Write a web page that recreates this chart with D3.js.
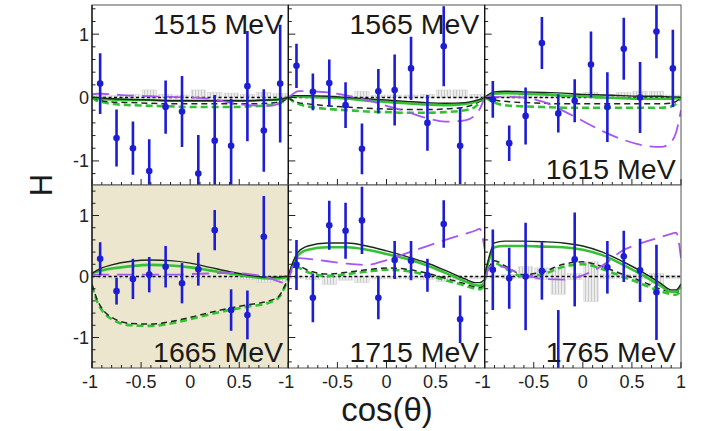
<!DOCTYPE html>
<html><head><meta charset="utf-8">
<script src="https://cdn.jsdelivr.net/npm/d3@7"></script>
<style>body{margin:0;background:#fff}svg{display:block;font-family:"Liberation Sans",Arial,Helvetica,sans-serif}</style>
</head><body><svg id="c" width="708" height="431"></svg>
<script>
// ---------------- data ----------------
const energies = ["1515 MeV","1565 MeV","1615 MeV","1665 MeV","1715 MeV","1765 MeV"];
const cosBins = [-0.917,-0.75,-0.583,-0.417,-0.25,-0.083,0.083,0.25,0.417,0.583,0.75,0.917];
const xTickLabels = ["-1","-0.5","0","0.5","1"];
const yTickLabels = ["-1","0","1"];
// measured H values (null = no point)
const Hvals = [
  [0.22,-0.64,-0.80,-1.16,-0.15,-0.22,-1.20,-0.68,-0.76,0.18,-0.52,0.22],
  [0.50,0.09,0.23,-0.12,-0.81,0.10,0.12,0.46,-0.40,0.81,-0.76,null],
  [-0.03,-0.72,-0.29,0.86,-0.25,-0.05,0.52,-0.15,0.77,0.00,1.04,0.46],
  [0.29,-0.24,-0.04,0.03,0.16,-0.11,0.12,0.76,-0.55,-0.63,0.65,null],
  [0.19,-0.35,0.84,0.75,0.92,-0.35,0.27,0.26,0.02,0.86,-0.70,null],
  [0.11,-0.03,0.00,0.09,-1.60,0.28,null,0.15,0.33,0.10,-0.26,null]
];
const Herrs = [
  [0.48,0.45,0.42,0.50,0.42,0.56,0.61,0.72,0.74,0.87,0.65,0.93],
  [0.35,0.29,0.37,0.36,0.40,0.35,0.56,0.50,0.44,0.63,0.61,null],
  [0.29,0.28,0.45,0.41,0.30,0.34,0.52,0.55,0.49,0.56,0.42,0.61],
  [0.27,0.22,0.33,0.29,0.34,0.33,0.27,0.33,0.34,0.40,0.67,null],
  [0.41,0.40,0.40,0.46,0.55,0.35,0.31,0.32,0.27,0.39,0.39,null],
  [0.66,0.50,0.88,0.47,1.05,0.77,null,0.43,0.42,0.52,0.78,null]
];
// systematic boxes (low, high)
const sysLo = [
  [0,0,0,0,0,0,0,0,0,0,0,0],
  [0,0,0,0,0,0,0,0,0,0,0,0],
  [0,0,0,0,0,0,0,0,0,0,0,0],
  [-0.03,-0.03,-0.03,-0.04,-0.03,-0.04,-0.04,-0.03,-0.05,-0.05,-0.10,-0.08],
  [-0.03,-0.05,-0.13,-0.06,-0.10,-0.04,-0.04,-0.04,-0.05,-0.08,-0.05,-0.04],
  [-0.02,-0.03,-0.03,-0.05,-0.29,-0.05,-0.41,-0.04,-0.03,-0.04,-0.12,-0.03]
];
const sysHi = [
  [0.04,0.03,0.05,0.12,0.05,0.04,0.12,0.08,0.07,0.05,0.08,0.06],
  [0.03,0.03,0.03,0.04,0.10,0.04,0.04,0.04,0.05,0.12,0.12,0.05],
  [0.02,0.03,0.05,0.03,0.03,0.04,0.08,0.05,0.08,0.10,0.10,0.04],
  [0,0,0,0,0,0,0,0,0,0,0,0],
  [0,0,0,0,0,0,0,0,0,0,0,0],
  [0.02,0.03,0.16,0.14,0.15,0.05,0.24,0.04,0.03,0.03,0.05,0.02]
];
// model curves sampled at curveX
const curveX = [-1,-0.95,-0.9,-0.8,-0.6,-0.4,-0.2,0,0.2,0.4,0.6,0.8,0.9,0.95,1];
const blackSolid = [
  [0.0,0.0,-0.01,-0.02,-0.03,-0.04,-0.05,-0.05,-0.05,-0.05,-0.05,-0.04,-0.03,-0.02,0.0],
  [0.0,0.03,0.03,0.03,0.02,0.0,-0.02,-0.04,-0.06,-0.08,-0.09,-0.08,-0.05,-0.03,0.0],
  [0.0,0.06,0.09,0.10,0.09,0.08,0.07,0.05,0.04,0.03,0.02,0.02,0.01,0.01,0.0],
  [0.05,0.10,0.14,0.19,0.25,0.27,0.26,0.22,0.15,0.08,0.02,-0.01,-0.01,0.0,0.0],
  [0.0,0.25,0.40,0.50,0.55,0.55,0.50,0.42,0.33,0.23,0.10,-0.04,-0.10,-0.10,-0.05],
  [0.0,0.35,0.55,0.58,0.58,0.57,0.55,0.50,0.40,0.25,0.08,-0.12,-0.22,-0.22,-0.12]
];
const greenSolid = [
  [0.0,-0.01,-0.02,-0.03,-0.04,-0.04,-0.05,-0.05,-0.05,-0.05,-0.05,-0.04,-0.03,-0.02,0.0],
  [0.0,0.02,0.02,0.01,0.0,-0.02,-0.05,-0.07,-0.09,-0.11,-0.12,-0.10,-0.07,-0.04,0.0],
  [0.0,0.04,0.06,0.07,0.06,0.05,0.03,0.02,0.0,-0.01,-0.02,-0.02,-0.02,-0.01,0.0],
  [0.05,0.08,0.10,0.13,0.17,0.19,0.18,0.15,0.10,0.05,0.0,-0.03,-0.03,-0.02,0.0],
  [0.0,0.22,0.35,0.44,0.48,0.48,0.44,0.37,0.29,0.19,0.06,-0.08,-0.14,-0.15,-0.10],
  [0.0,0.30,0.48,0.50,0.50,0.49,0.48,0.44,0.35,0.20,0.03,-0.16,-0.25,-0.25,-0.15]
];
const blackDash = [
  [0.0,-0.03,-0.05,-0.07,-0.08,-0.09,-0.10,-0.10,-0.10,-0.10,-0.10,-0.09,-0.07,-0.05,0.0],
  [0.0,-0.05,-0.08,-0.10,-0.13,-0.15,-0.17,-0.18,-0.19,-0.19,-0.18,-0.15,-0.10,-0.06,0.0],
  [0.0,-0.02,-0.04,-0.06,-0.08,-0.09,-0.10,-0.10,-0.10,-0.10,-0.10,-0.10,-0.09,-0.06,0.0],
  [-0.13,-0.37,-0.52,-0.67,-0.77,-0.78,-0.74,-0.67,-0.59,-0.52,-0.46,-0.40,-0.33,-0.20,-0.02],
  [0.0,0.15,0.17,0.10,0.04,0.07,0.11,0.14,0.12,0.06,-0.03,-0.12,-0.17,-0.18,-0.12],
  [-0.03,0.17,0.26,0.18,0.03,0.08,0.20,0.24,0.16,0.04,-0.08,-0.21,-0.25,-0.26,-0.18]
];
const greenDash = [
  [0.0,-0.05,-0.07,-0.10,-0.12,-0.13,-0.14,-0.15,-0.15,-0.15,-0.14,-0.12,-0.10,-0.06,0.0],
  [0.0,-0.06,-0.10,-0.14,-0.18,-0.20,-0.22,-0.23,-0.24,-0.24,-0.23,-0.20,-0.15,-0.08,0.0],
  [0.0,-0.04,-0.08,-0.12,-0.14,-0.15,-0.16,-0.16,-0.16,-0.16,-0.16,-0.16,-0.14,-0.10,0.0],
  [-0.15,-0.40,-0.55,-0.70,-0.80,-0.81,-0.77,-0.70,-0.62,-0.55,-0.49,-0.43,-0.35,-0.22,-0.02],
  [0.0,0.12,0.14,0.07,0.01,0.04,0.08,0.11,0.09,0.03,-0.06,-0.15,-0.20,-0.21,-0.15],
  [-0.06,0.13,0.22,0.14,0.0,0.04,0.16,0.20,0.12,0.0,-0.12,-0.25,-0.29,-0.30,-0.22]
];
const purpleDash = [
  [0.05,0.06,0.06,0.05,0.03,0.02,0.01,0.0,-0.02,-0.08,-0.12,-0.13,-0.10,-0.05,0.0],
  [0.0,0.06,0.10,0.10,0.08,0.03,-0.04,-0.13,-0.22,-0.32,-0.38,-0.36,-0.28,-0.18,0.0],
  [0.0,0.01,0.01,0.01,0.0,-0.07,-0.21,-0.37,-0.53,-0.66,-0.75,-0.78,-0.70,-0.55,-0.20],
  [0.02,0.03,0.03,0.03,0.03,0.03,0.03,0.04,0.05,0.06,0.04,-0.02,-0.08,-0.10,-0.05],
  [-0.10,0.20,0.30,0.29,0.25,0.21,0.19,0.27,0.38,0.49,0.60,0.70,0.75,0.78,0.45],
  [-0.05,0.15,0.20,0.15,0.03,-0.04,-0.05,0.02,0.18,0.42,0.55,0.65,0.70,0.72,0.30]
];

// ---------------- layout ----------------
const svg = d3.select("#c");
const L = 92, R = 681, T = 5, M = 185, B = 368;
const pw = (R - L) / 3;
const panels = energies.map((e, i) => {
  const col = i % 3, row = Math.floor(i / 3);
  return {i, col, row, x0: L + col * pw, x1: L + (col + 1) * pw,
          y0: row === 0 ? T : M, y1: row === 0 ? M : B,
          ydom: row === 0 ? [-1.38, 1.46] : [-1.5, 1.5]};
});

const defs = svg.append("defs");
const pat = defs.append("pattern").attr("id","hatch").attr("patternUnits","userSpaceOnUse")
  .attr("width",3).attr("height",3);
pat.append("rect").attr("width",3).attr("height",3).attr("fill","#ececec");
pat.append("rect").attr("x",0).attr("width",1).attr("height",3).attr("fill","#c9c9c9");

panels.forEach(p => {
  const x = d3.scaleLinear().domain([-1, 1]).range([p.x0, p.x1]);
  const y = d3.scaleLinear().domain(p.ydom).range([p.y1, p.y0]);
  defs.append("clipPath").attr("id", "clip" + p.i).append("rect")
    .attr("x", p.x0).attr("y", p.y0).attr("width", p.x1 - p.x0).attr("height", p.y1 - p.y0);
  const g = svg.append("g");
  g.append("rect").attr("x", p.x0).attr("y", p.y0).attr("width", p.x1 - p.x0).attr("height", p.y1 - p.y0)
    .attr("fill", p.i === 3 ? "#ebe6cd" : "#fff");
  const c = g.append("g").attr("clip-path", `url(#clip${p.i})`);

  // systematic boxes
  const bw = x(1/6) - x(0);
  c.selectAll("rect.sys").data(cosBins.map((v, k) => ({v, lo: sysLo[p.i][k], hi: sysHi[p.i][k]})))
    .join("rect").attr("class","sys")
    .attr("x", d => x(d.v) - bw / 2 + 1).attr("width", bw - 2)
    .attr("y", d => y(d.hi)).attr("height", d => Math.max(0, y(d.lo) - y(d.hi)))
    .attr("fill", "url(#hatch)").attr("stroke", "#d4d4d4").attr("stroke-width", 0.6);

  const line = d3.line().x((d, k) => x(curveX[k])).y(d => y(d)).curve(d3.curveMonotoneX);
  const draw = (arr, color, w, dash) => c.append("path").attr("d", line(arr[p.i]))
    .attr("fill", "none").attr("stroke", color).attr("stroke-width", w)
    .attr("stroke-dasharray", dash || null);

  // zero line
  c.append("line").attr("x1", p.x0).attr("x2", p.x1).attr("y1", y(0)).attr("y2", y(0))
    .attr("stroke", "#000").attr("stroke-width", 1.6).attr("stroke-dasharray", "3,2.5");

  draw(greenDash, "#34c234", 2.6, "7,4");
  draw(blackDash, "#1e2a1e", 1.5, "6,4");
  draw(greenSolid, "#34c234", 2.6);
  draw(blackSolid, "#1a2a1a", 1.4);
  draw(purpleDash, "#a657f0", 1.8, "17,8");

  // data points
  const pts = cosBins.map((v, k) => ({v, h: Hvals[p.i][k], e: Herrs[p.i][k]})).filter(d => d.h !== null);
  c.selectAll("line.err").data(pts).join("line").attr("class","err")
    .attr("x1", d => x(d.v)).attr("x2", d => x(d.v))
    .attr("y1", d => y(d.h + d.e)).attr("y2", d => y(d.h - d.e))
    .attr("stroke", "#1d1dd4").attr("stroke-width", 2.6);
  c.selectAll("circle.pt").data(pts).join("circle").attr("class","pt")
    .attr("cx", d => x(d.v)).attr("cy", d => y(d.h)).attr("r", 3.3).attr("fill", "#1d1dd4");

  // frame
  g.append("rect").attr("x", p.x0).attr("y", p.y0).attr("width", p.x1 - p.x0).attr("height", p.y1 - p.y0)
    .attr("fill", "none").attr("stroke", "#555").attr("stroke-width", 1);

  // y ticks (inside, left)
  const yMinor = d3.range(Math.ceil(p.ydom[0] / 0.2) * 0.2, p.ydom[1] + 1e-9, 0.2);
  g.selectAll("line.ym").data(yMinor).join("line")
    .attr("x1", p.x0).attr("x2", d => p.x0 + (Math.abs(d - Math.round(d)) < 1e-6 ? 7 : 3.5))
    .attr("y1", d => y(d)).attr("y2", d => y(d)).attr("stroke", "#222").attr("stroke-width", 1);
  g.append("line").attr("x1", p.x0).attr("x2", p.x0).attr("y1", p.y0).attr("y2", p.y1)
    .attr("stroke", "#111").attr("stroke-width", 1.3);
  // x ticks (inside, bottom)
  const xMinor = d3.range(-10, 11).map(k => k / 10);
  g.selectAll("line.xm").data(xMinor).join("line")
    .attr("x1", d => x(d)).attr("x2", d => x(d))
    .attr("y1", p.y1).attr("y2", d => p.y1 - (Math.abs(d * 2 - Math.round(d * 2)) < 1e-6 ? 6 : 3))
    .attr("stroke", "#222").attr("stroke-width", 1);

  if (p.col === 0) {
    g.selectAll("text.yl").data(yTickLabels).join("text")
      .attr("x", p.x0 - 3).attr("y", d => y(+d) + 6.5).attr("text-anchor", "end")
      .attr("font-size", 18).attr("fill", "#222").text(d => d);
  }
  if (p.row === 1) {
    const labs = p.col === 2 ? xTickLabels : xTickLabels.slice(0, 4);
    g.selectAll("text.xl").data(labs).join("text")
      .attr("x", d => x(+d) + (d === "-1" ? -2 : 0)).attr("y", 388).attr("text-anchor", "middle")
      .attr("font-size", 18).attr("fill", "#222").text(d => d);
  }
  // energy label
  g.append("text").attr("x", p.x0 + 191).attr("y", (p.row === 0 && p.col < 2) ? 33.5 : p.y1 - 6.5)
    .attr("text-anchor", "end").attr("font-size", 28.5).attr("fill", "#1a1a1a").text(energies[p.i]);
});

svg.append("text").attr("x", 387).attr("y", 421).attr("text-anchor", "middle")
  .attr("font-size", 33).attr("fill", "#1a1a1a").text("cos(θ)");
svg.append("text").attr("transform", "translate(52,185) rotate(-90)").attr("text-anchor", "middle")
  .attr("font-size", 31).attr("fill", "#1a1a1a").text("H");
</script></body></html>
